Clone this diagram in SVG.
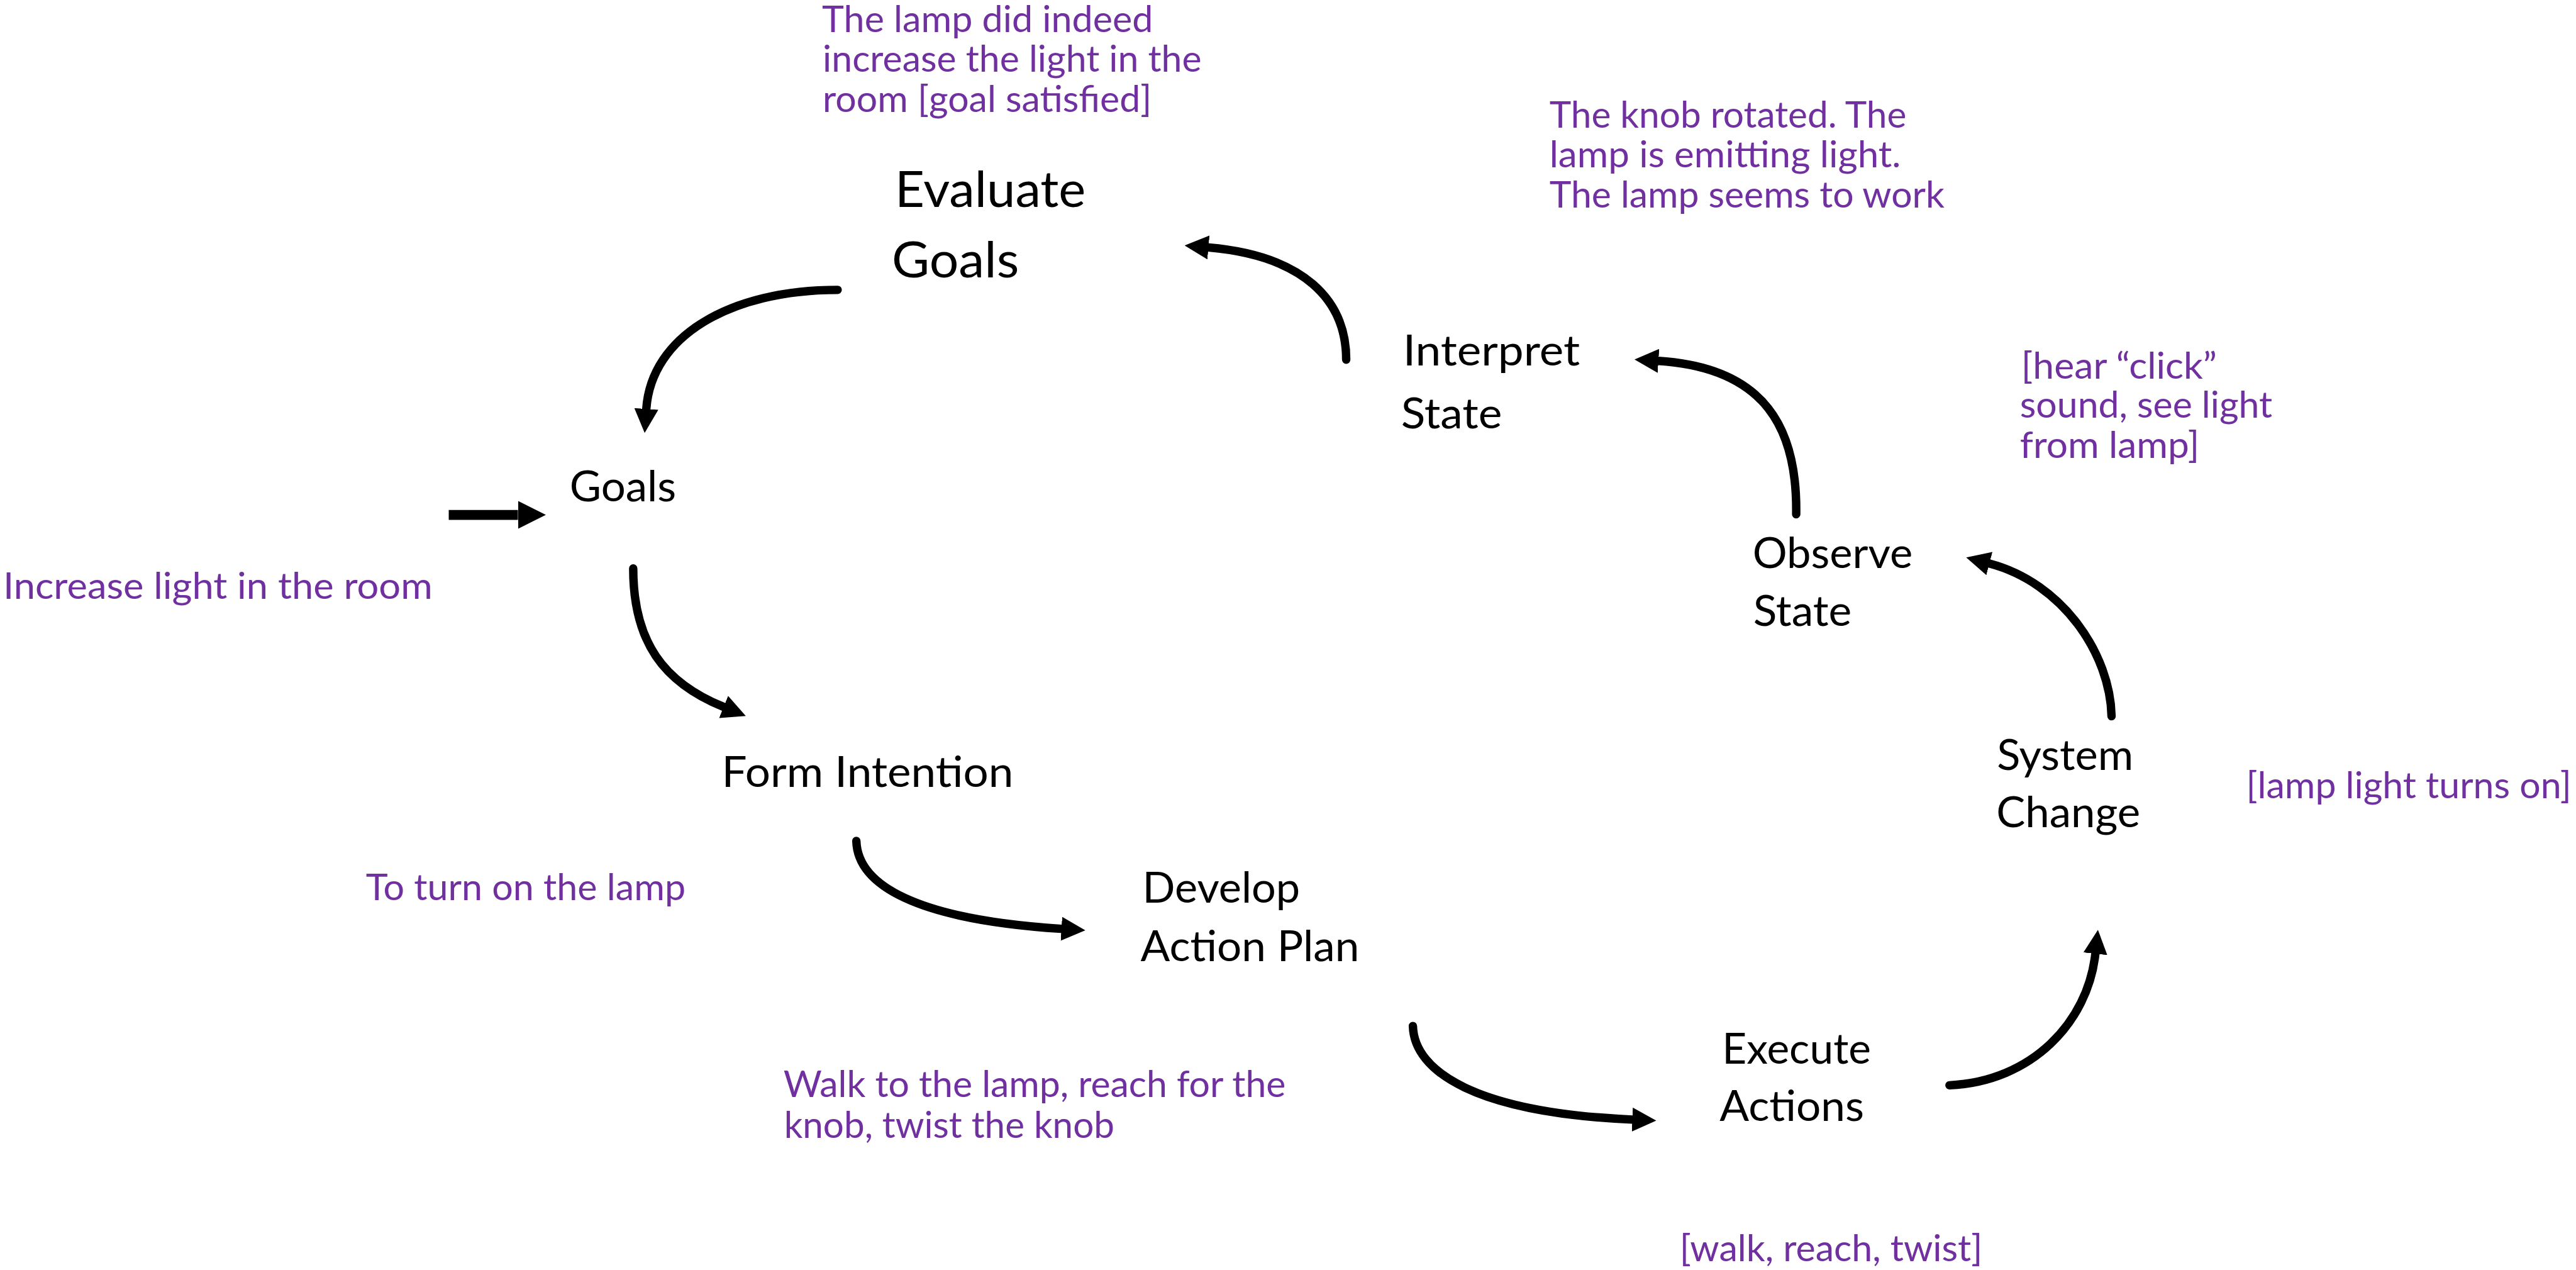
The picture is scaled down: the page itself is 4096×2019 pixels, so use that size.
<svg xmlns="http://www.w3.org/2000/svg" width="4096" height="2019" viewBox="0 0 4096 2019">
  <defs>
    <style>
      text { font-family: Lato, "Open Sans", "Liberation Sans", sans-serif; }
      .node { fill: #000000; font-size: 68px; }
      .big { font-size: 80px; }
      .note { fill: #7030A0; font-size: 58px; }
      .link { fill: none; stroke: #000000; stroke-width: 13.5; stroke-linecap: round; marker-end: url(#head); }
      .feed { fill: none; stroke: #000000; stroke-width: 16; marker-end: url(#head-s); }
    </style>
    <!-- triangular arrowheads sized in stroke widths -->
    <marker id="head" viewBox="0 0 2.85 2.85" refX="0" refY="1.425" markerWidth="2.85" markerHeight="2.85" markerUnits="strokeWidth" orient="auto">
      <path d="M0,0 L2.85,1.425 L0,2.85 Z" fill="#000000"/>
    </marker>
    <marker id="head-s" viewBox="0 0 2.8 2.8" refX="0" refY="1.4" markerWidth="2.8" markerHeight="2.8" markerUnits="strokeWidth" orient="auto">
      <path d="M0,0 L2.8,1.4 L0,2.8 Z" fill="#000000"/>
    </marker>
  </defs>

  <rect width="4096" height="2019" fill="#ffffff"/>

  <g transform="scale(0.991)">
    <!-- cycle connectors -->
    <g id="connectors">
      <path id="evaluate-to-goals" class="link" d="M1344,465 C1170,465 1045,540 1037,656"/>
      <path id="goals-to-form" class="link" d="M1016,912 C1016,1030 1065,1095 1161,1134"/>
      <path id="form-to-develop" class="link" d="M1374,1349 C1376,1420 1470,1475 1703,1490"/>
      <path id="develop-to-execute" class="link" d="M2267,1646 C2269,1720 2370,1785 2619,1796"/>
      <path id="execute-to-system" class="link" d="M3128,1741 C3260,1735 3350,1640 3362,1530"/>
      <path id="system-to-observe" class="link" d="M3388,1149 C3386,1050 3310,935 3192,904"/>
      <path id="observe-to-interpret" class="link" d="M2882,825 C2884,690 2835,590 2661,579"/>
      <path id="interpret-to-evaluate" class="link" d="M2160,577 C2160,480 2090,410 1939,397"/>
      <path id="input-to-goals" class="feed" d="M720,826 L831,826"/>
    </g>

    <!-- stage nodes -->
    <g id="node-evaluate-goals">
      <text class="node big" x="1436" y="332" textLength="306" lengthAdjust="spacingAndGlyphs">Evaluate</text>
      <text class="node big" x="1431" y="445" textLength="204" lengthAdjust="spacingAndGlyphs">Goals</text>
    </g>
    <g id="node-goals">
      <text class="node" x="914" y="804" textLength="171" lengthAdjust="spacingAndGlyphs">Goals</text>
    </g>
    <g id="node-form-intention">
      <text class="node" x="1158" y="1262" textLength="468" lengthAdjust="spacingAndGlyphs">Form Intention</text>
    </g>
    <g id="node-develop-plan">
      <text class="node" x="1833" y="1448" textLength="253" lengthAdjust="spacingAndGlyphs">Develop</text>
      <text class="node" x="1830" y="1542" textLength="351" lengthAdjust="spacingAndGlyphs">Action Plan</text>
    </g>
    <g id="node-execute-actions">
      <text class="node" x="2763" y="1706" textLength="239" lengthAdjust="spacingAndGlyphs">Execute</text>
      <text class="node" x="2759" y="1798" textLength="232" lengthAdjust="spacingAndGlyphs">Actions</text>
    </g>
    <g id="node-system-change">
      <text class="node" x="3204" y="1235" textLength="219" lengthAdjust="spacingAndGlyphs">System</text>
      <text class="node" x="3203" y="1327" textLength="231" lengthAdjust="spacingAndGlyphs">Change</text>
    </g>
    <g id="node-observe-state">
      <text class="node" x="2812" y="911" textLength="257" lengthAdjust="spacingAndGlyphs">Observe</text>
      <text class="node" x="2813" y="1004" textLength="158" lengthAdjust="spacingAndGlyphs">State</text>
    </g>
    <g id="node-interpret-state">
      <text class="node" x="2251" y="586" textLength="284" lengthAdjust="spacingAndGlyphs">Interpret</text>
      <text class="node" x="2248" y="687" textLength="162" lengthAdjust="spacingAndGlyphs">State</text>
    </g>

    <!-- lamp example annotations -->
    <g id="note-evaluate">
      <text class="note" x="1319" y="51" textLength="531" lengthAdjust="spacingAndGlyphs">The lamp did indeed</text>
      <text class="note" x="1320" y="115" textLength="608" lengthAdjust="spacingAndGlyphs">increase the light in the</text>
      <text class="note" x="1320" y="180" textLength="528" lengthAdjust="spacingAndGlyphs">room [goal satisfied]</text>
    </g>
    <g id="note-interpret">
      <text class="note" x="2486" y="205" textLength="573" lengthAdjust="spacingAndGlyphs">The knob rotated. The</text>
      <text class="note" x="2486" y="268" textLength="564" lengthAdjust="spacingAndGlyphs">lamp is emitting light.</text>
      <text class="note" x="2486" y="333" textLength="634" lengthAdjust="spacingAndGlyphs">The lamp seems to work</text>
    </g>
    <g id="note-observe">
      <text class="note" x="3243" y="607" textLength="314" lengthAdjust="spacingAndGlyphs">[hear “click”</text>
      <text class="note" x="3241" y="670" textLength="405" lengthAdjust="spacingAndGlyphs">sound, see light</text>
      <text class="note" x="3241" y="735" textLength="288" lengthAdjust="spacingAndGlyphs">from lamp]</text>
    </g>
    <g id="note-system">
      <text class="note" x="3604" y="1281" textLength="522" lengthAdjust="spacingAndGlyphs">[lamp light turns on]</text>
    </g>
    <g id="note-goals">
      <text class="note" x="5" y="961" textLength="689" lengthAdjust="spacingAndGlyphs">Increase light in the room</text>
    </g>
    <g id="note-form">
      <text class="note" x="587" y="1444" textLength="513" lengthAdjust="spacingAndGlyphs">To turn on the lamp</text>
    </g>
    <g id="note-develop">
      <text class="note" x="1257" y="1760" textLength="806" lengthAdjust="spacingAndGlyphs">Walk to the lamp, reach for the</text>
      <text class="note" x="1258" y="1825" textLength="530" lengthAdjust="spacingAndGlyphs">knob, twist the knob</text>
    </g>
    <g id="note-execute">
      <text class="note" x="2695" y="2023" textLength="486" lengthAdjust="spacingAndGlyphs">[walk, reach, twist]</text>
    </g>
  </g>
</svg>
